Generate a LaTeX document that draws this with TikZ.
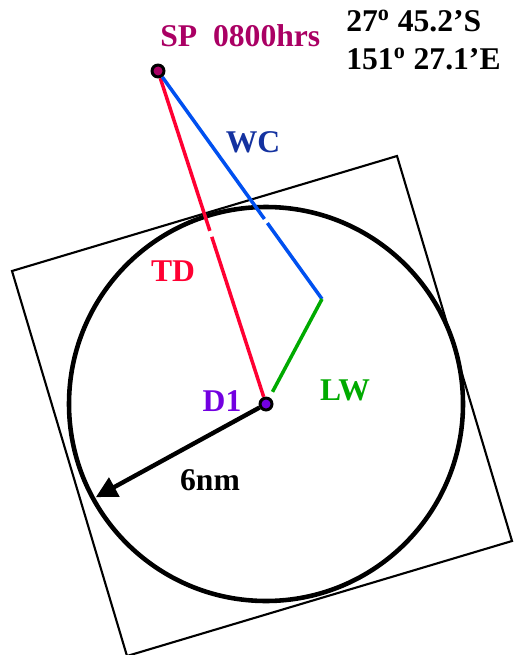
\documentclass[tikz,border=0pt]{standalone}
\usepackage{fontspec}
\setmainfont{Liberation Serif}
\usetikzlibrary{calc,arrows.meta}
\definecolor{spcol}{RGB}{170,0,100}
\definecolor{tdred}{RGB}{255,0,50}
\definecolor{wcblue}{RGB}{0,80,240}
\definecolor{wctext}{RGB}{20,50,160}
\definecolor{lwgreen}{RGB}{0,170,0}
\definecolor{dpurple}{RGB}{115,0,225}

\begin{document}
\begin{tikzpicture}[x=0.02cm,y=-0.02cm,
  lbl/.style={font=\fontsize{18}{22}\selectfont\bfseries, inner sep=0pt},
  dot/.style={circle, draw=black, line width=1.7pt, inner sep=0pt, minimum size=6.8pt},
  track/.style={line width=2pt}]
\useasboundingbox (0,0) rectangle (514,655);

% plotting sheet and 6nm range circle
\draw[line width=1.2pt] (12,271) -- (397,156) -- (512,541) -- (127,656) -- cycle;
\coordinate (d1c) at (266,404);
\draw[line width=2.6pt] (d1c) circle[radius=197];

% positions
\node[dot, fill=spcol] (sp) at (158,71) {};
\node[dot, fill=dpurple] (d1) at (266,404) {};
\coordinate (wcend) at (322,299);

% true direction, current, leeway
\draw[track, tdred] (sp) -- ($(sp)!0.48!(d1)$);
\draw[track, tdred] ($(sp)!0.498!(d1)$) -- (d1);
\draw[track, wcblue] (sp) -- ($(sp)!0.649!(wcend)$);
\draw[track, wcblue] ($(sp)!0.667!(wcend)$) -- (wcend);
\draw[track, lwgreen, shorten >=3.6pt] (wcend) -- (d1);

% radius
\coordinate (rim) at ($(d1c)+(151.3:194)$);
\draw[line width=2.5pt, -{Triangle[length=12pt,width=12pt]}] (d1) -- (rim);

% labels
\node[lbl, spcol, anchor=base west] (splbl) at (160,47) {SP~~0800hrs};
\node[lbl, anchor=base west] (lat) at (346,32) {27\textsuperscript{o} 45.2’S};
\node[lbl, anchor=base west] (lon) at (346,70) {151\textsuperscript{o} 27.1’E};
\node[lbl, wctext] (wclbl) at (253,142) {WC};
\node[lbl, tdred] (tdlbl) at (173,271) {TD};
\node[lbl, dpurple] (d1lbl) at (222,401) {D1};
\node[lbl, lwgreen] (lwlbl) at (345,390) {LW};
\node[lbl] (rlbl) at (210,480) {6nm};

\end{tikzpicture}
\end{document}
